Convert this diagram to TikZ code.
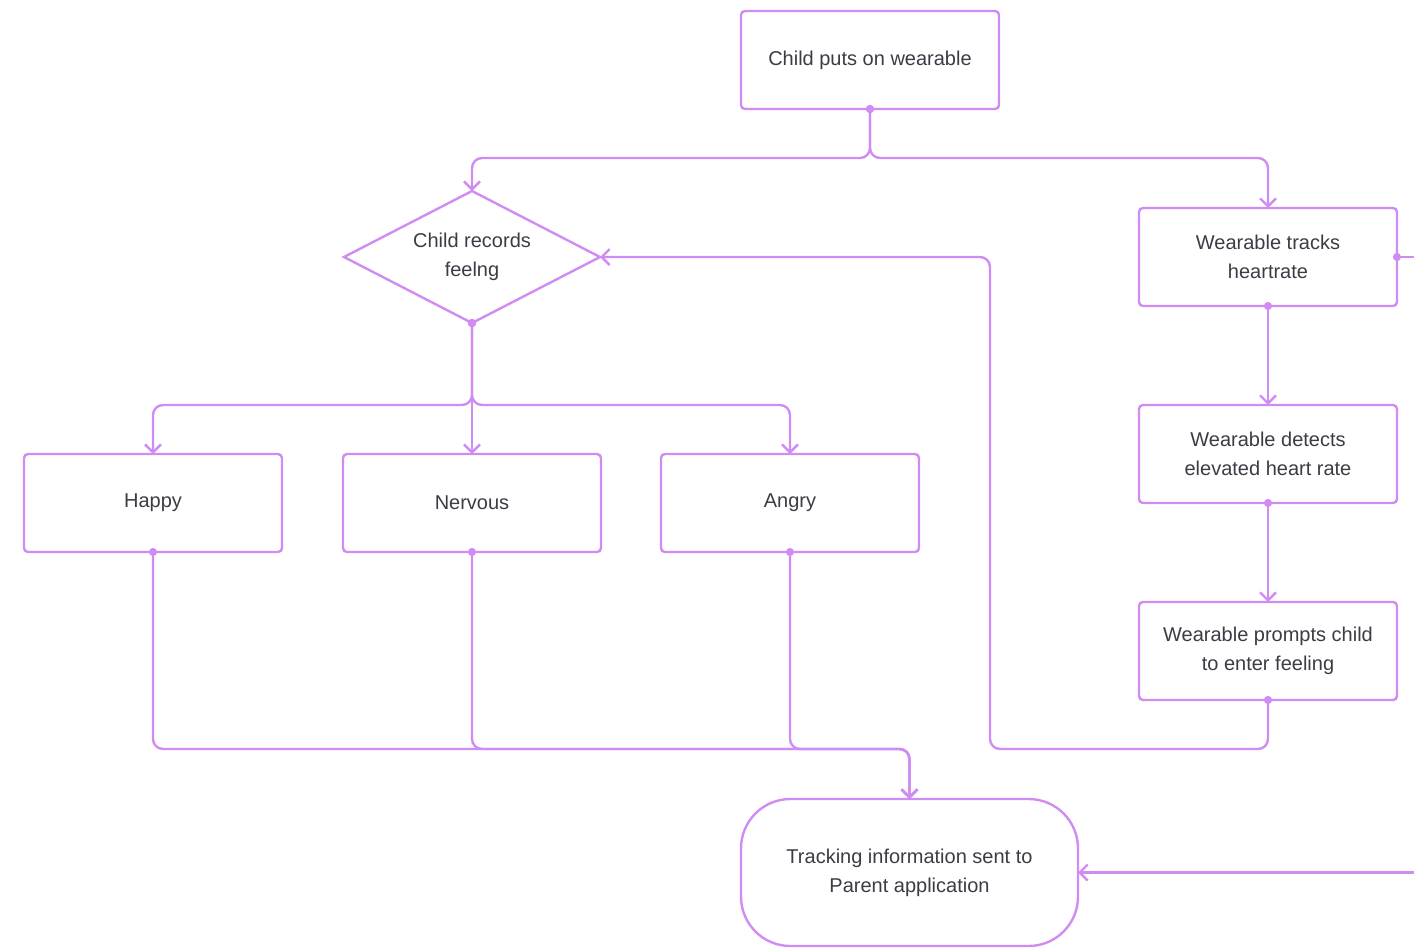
\documentclass[tikz,border=0pt]{standalone}
\usepackage{fontspec}
\setmainfont{Liberation Sans}
\usepackage{tikz}
\usetikzlibrary{arrows.meta,shapes.geometric,positioning}

\definecolor{lilac}{HTML}{D08CF2}
\definecolor{ink}{HTML}{3C3C46}

\begin{document}
\begin{tikzpicture}[x=0.75pt,y=-0.75pt,semithick]
\tikzstyle{every node}=[text=ink,font=\fontsize{15}{21.75}\selectfont,align=center]
\tikzstyle{box}=[draw=lilac,line width=1.8pt,rounded corners=3pt,fill=white,minimum width=193.5pt,minimum height=73.5pt,inner sep=0pt,outer sep=0pt]
\tikzstyle{choice}=[draw=lilac,line width=1.8pt,diamond,shape aspect=1.94,minimum width=192pt,minimum height=99pt,inner sep=0pt,outer sep=0pt]
\tikzstyle{rounded}=[box,rounded corners=37pt,minimum width=252.75pt,minimum height=110.25pt]
\tikzstyle{flow}=[draw=lilac,line width=1.8pt,rounded corners=7.5pt,shorten <=-3pt,
  arrows={Circle[length=6pt]-Straight Barb[length=6pt,width=12pt]}]

\useasboundingbox (0,0) rectangle (1414,947);

\node[box] (wear) at (870,60) {Child puts on wearable};
\node[choice] (feel) at (472,257) {Child records\\feelng};
\node[box] (happy) at (153,503) {Happy};
\node[box,right=45.75pt of happy] (nervous) {Nervous};
\node[box,right=45pt of nervous] (angry) {Angry};
\node[box] (tracks) at (1268,257) {Wearable tracks\\heartrate};
\node[box,below=74.25pt of tracks] (detects) {Wearable detects\\elevated heart rate};
\node[box,below=74.25pt of detects] (prompts) {Wearable prompts child\\to enter feeling};
\node[rounded] (parent) at (909.5,872.5) {Tracking information sent to\\Parent application};

\coordinate (outA) at (1414,257);
\coordinate (outB) at (1414,872.5);

% start
\draw[flow] (wear.south) -- ++(0,49) -| (feel.north);
\draw[flow] (wear.south) -- ++(0,49) -| (tracks.north);

% feelings
\draw[flow] (feel.south) -- ++(0,82) -| (happy.north);
\draw[flow] (feel.south) -- (nervous.north);
\draw[flow] (feel.south) -- ++(0,82) -| (angry.north);

% to parent app
\draw[flow] (happy.south) -- ++(0,197) -| (parent.north);
\draw[flow] (nervous.south) -- ++(0,197) -| (parent.north);
\draw[flow] (angry.south) -- ++(0,197) -| (parent.north);

% heart rate
\draw[flow] (tracks.south) -- (detects.north);
\draw[flow] (detects.south) -- (prompts.north);
\draw[flow] (prompts.south) -- ++(0,49) -| (990,257) -- (feel.east);

% off to the right
\draw[flow,arrows={Circle[length=6pt]-}] (tracks.east) -- (outA);
\draw[flow,shorten <=0pt,arrows={-Straight Barb[length=6pt,width=12pt]}] (outB) -- (parent.east);
\end{tikzpicture}
\end{document}
